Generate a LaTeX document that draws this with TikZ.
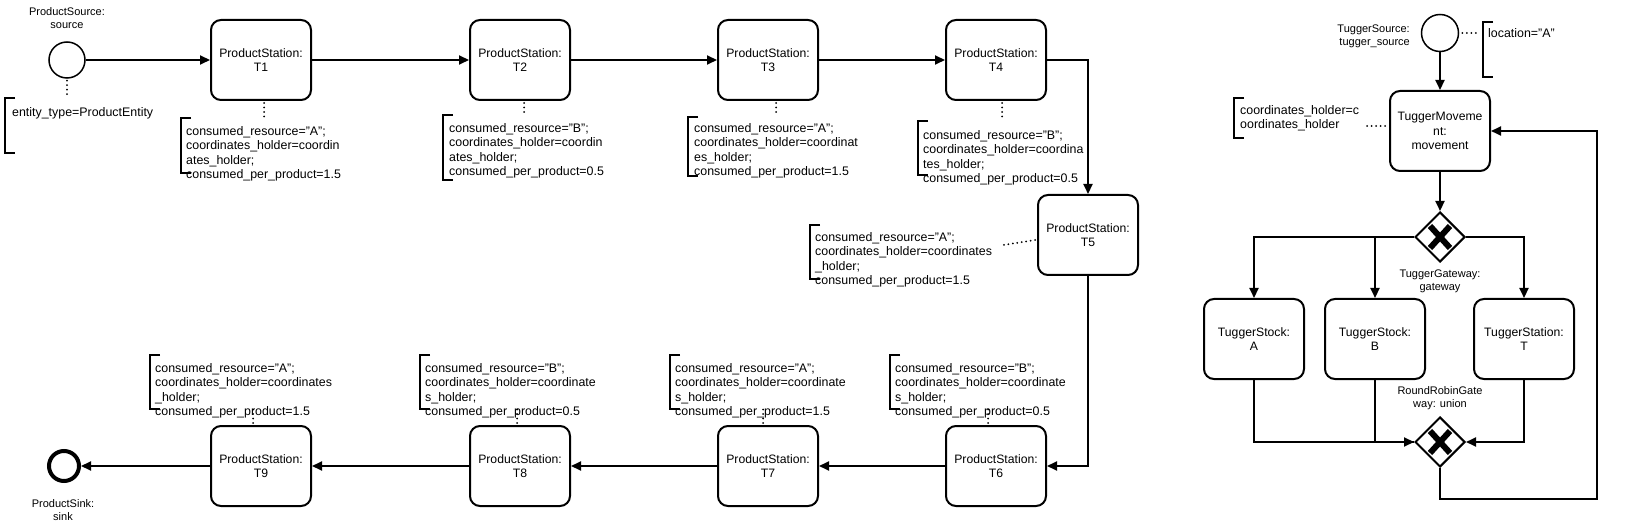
\documentclass[tikz,border=0pt]{standalone}
\usepackage{fontspec}
\setmainfont{Liberation Sans}
\usetikzlibrary{arrows.meta,shapes.geometric,calc}
\begin{document}
\begin{tikzpicture}[x=1pt,y=-1pt,
  station/.style={draw,line width=2pt,rounded corners=10pt,minimum width=100pt,minimum height=80pt,inner sep=0pt,align=center,font=\fontsize{12.2}{14.5}\selectfont},
  flow/.style={line width=2pt,-{Triangle[length=10pt,width=9pt]}},
  plain/.style={line width=2pt},
  dots/.style={line width=2pt,dash pattern=on 0pt off 4.5pt,line cap=round},
  brk/.style={line width=2pt},
  anntext/.style={anchor=north west,inner sep=0pt,align=left,font=\fontsize{12.4}{14.5}\selectfont},
  small/.style={inner sep=0pt,align=center,font=\fontsize{11}{13}\selectfont},
  gw/.style={draw,diamond,line width=2pt,minimum width=50pt,minimum height=50pt,inner sep=0pt},
  xmark/.style={line width=6pt},
]
\useasboundingbox (0,0) rectangle (1628,529);
\newcommand{\annbr}[3]{\draw[brk] (#1+10,#2) -- (#1,#2) -- (#1,#3) -- (#1+10,#3);}
\newcommand{\gwx}[1]{\draw[xmark] ($(#1)+(-10,-11)$) -- ($(#1)+(10,11)$); \draw[xmark] ($(#1)+(-10,11)$) -- ($(#1)+(10,-11)$);}

% ---------- product line ----------
\node[circle,draw,line width=1.5pt,minimum size=36pt,inner sep=0pt] (src) at (67,60) {};
\node[small] (srcl) at (67,18.5) {ProductSource:\\source};
\node[station] (T1) at (261,60) {ProductStation:\\T1};
\node[station] (T2) at (520,60) {ProductStation:\\T2};
\node[station] (T3) at (768,60) {ProductStation:\\T3};
\node[station] (T4) at (996,60) {ProductStation:\\T4};
\node[station] (T5) at (1088,235) {ProductStation:\\T5};
\node[station] (T6) at (996,466) {ProductStation:\\T6};
\node[station] (T7) at (768,466) {ProductStation:\\T7};
\node[station] (T8) at (520,466) {ProductStation:\\T8};
\node[station] (T9) at (261,466) {ProductStation:\\T9};
\node[circle,draw,line width=4pt,minimum size=30pt,inner sep=0pt] (sink) at (64,466) {};
\node[small] (sinkl) at (63,510) {ProductSink:\\sink};

\draw[flow] (src) -- (T1);
\draw[flow] (T1) -- (T2);
\draw[flow] (T2) -- (T3);
\draw[flow] (T3) -- (T4);
\draw[flow] (T4.east) -| (T5.north);
\draw[flow] (T5.south) |- (T6.east);
\draw[flow] (T6) -- (T7);
\draw[flow] (T7) -- (T8);
\draw[flow] (T8) -- (T9);
\draw[flow] (T9) -- (sink);

% annotations
\draw[dots] (src.south) ++(0,2) -- ++(0,15);
\annbr{5}{98}{153}
\node[anntext] (a0) at (12,107) {entity\_type=ProductEntity};

\draw[dots] (T1.south) ++(3,2) -- ++(0,14);
\annbr{181}{118}{173}
\node[anntext] (a1) at (186,126) {consumed\_resource="A";\\coordinates\_holder=coordin\\ates\_holder;\\consumed\_per\_product=1.5};

\draw[dots] (T2.south) ++(4,2) -- ++(0,11);
\annbr{443}{115}{180}
\node[anntext] (a2) at (449,123) {consumed\_resource="B";\\coordinates\_holder=coordin\\ates\_holder;\\consumed\_per\_product=0.5};

\draw[dots] (T3.south) ++(8,2) -- ++(0,13);
\annbr{688}{117}{176}
\node[anntext] (a3) at (694,123) {consumed\_resource="A";\\coordinates\_holder=coordinat\\es\_holder;\\consumed\_per\_product=1.5};

\draw[dots] (T4.south) ++(6,2) -- ++(0,16);
\annbr{918}{121}{175}
\node[anntext] (a4) at (923,130) {consumed\_resource="B";\\coordinates\_holder=coordina\\tes\_holder;\\consumed\_per\_product=0.5};

\coordinate (a5c) at (1003,245);
\draw[dots] ($(T5.west)+(-2,5)$) -- (a5c);
\annbr{810}{225}{279}
\node[anntext] (a5) at (815,232) {consumed\_resource="A";\\coordinates\_holder=coordinates\\\_holder;\\consumed\_per\_product=1.5};

\draw[dots] (T6.north) ++(-8,-2) -- ++(0,-14);
\annbr{890}{355}{409}
\node[anntext] (a6) at (895,363) {consumed\_resource="B";\\coordinates\_holder=coordinate\\s\_holder;\\consumed\_per\_product=0.5};

\draw[dots] (T7.north) ++(-5,-2) -- ++(0,-14);
\annbr{670}{355}{409}
\node[anntext] (a7) at (675,363) {consumed\_resource="A";\\coordinates\_holder=coordinate\\s\_holder;\\consumed\_per\_product=1.5};

\draw[dots] (T8.north) ++(-3,-2) -- ++(0,-14);
\annbr{420}{355}{409}
\node[anntext] (a8) at (425,363) {consumed\_resource="B";\\coordinates\_holder=coordinate\\s\_holder;\\consumed\_per\_product=0.5};

\draw[dots] (T9.north) ++(-8,-2) -- ++(0,-14);
\annbr{150}{355}{409}
\node[anntext] (a9) at (155,363) {consumed\_resource="A";\\coordinates\_holder=coordinates\\\_holder;\\consumed\_per\_product=1.5};

% ---------- tugger ----------
\node[circle,draw,line width=1.5pt,minimum size=37pt,inner sep=0pt] (tsrc) at (1440,33) {};
\node[small,anchor=east,align=right] (tsrcl) at (1410,36) {TuggerSource:\\tugger\_source};
\coordinate (tlc) at (1480,33);
\draw[dots] ($(tsrc.east)+(3,0)$) -- (tlc);
\annbr{1483}{22}{77}
\node[anntext] (tl) at (1488,28) {location="A"};

\node[station] (mov) at (1440,131) {TuggerMoveme\\nt:\\movement};
\draw[flow] (tsrc) -- (mov);
\coordinate (mvc) at (1367,126);
\draw[dots] (mvc) -- (mvc -| mov.west);
\annbr{1234}{98}{138}
\node[anntext] (ma) at (1240,105) {coordinates\_holder=c\\oordinates\_holder};

\node[gw] (gw1) at (1440,237) {};
\gwx{gw1}
\draw[flow] (mov) -- (gw1);
\node[small] (gw1l) at (1440,281) {TuggerGateway:\\gateway};

\node[station] (stA) at (1254,339) {TuggerStock:\\A};
\node[station] (stB) at (1375,339) {TuggerStock:\\B};
\node[station] (stT) at (1524,339) {TuggerStation:\\T};
\draw[flow] (gw1.west) -| (stA.north);
\draw[flow] (gw1.west) -| (stB.north);
\draw[flow] (gw1.east) -| (stT.north);

\node[gw] (gw2) at (1440,442) {};
\gwx{gw2}
\node[small] (gw2l) at (1440,398) {RoundRobinGate\\way: union};
\draw[flow] (stA.south) |- (gw2.west);
\draw[plain] (stB.south) |- (gw2.west);
\draw[flow] (stT.south) |- (gw2.east);
\coordinate (lp) at (1597,499);
\draw[flow] (gw2.south) |- (lp) |- (mov.east);
\end{tikzpicture}
\end{document}
